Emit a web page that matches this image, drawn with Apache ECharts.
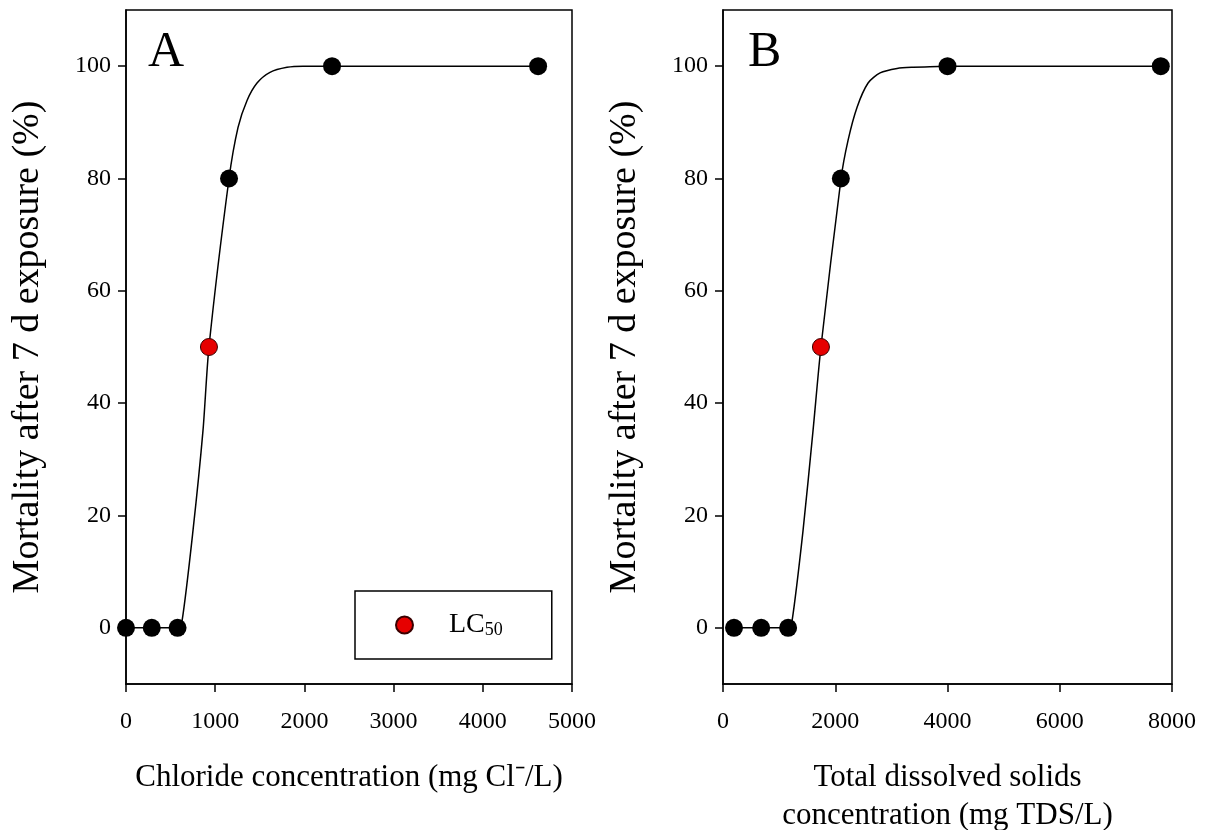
<!DOCTYPE html>
<html>
<head>
<meta charset="utf-8">
<script src="https://cdn.jsdelivr.net/npm/echarts@6/dist/echarts.min.js"></script>
<style>
html,body{margin:0;padding:0;background:#fff;}
#chart{width:1206px;height:830px;}
</style>
</head>
<body>
<div id="chart"></div>
<script>
// ---- data ----
const xTicksA = [0, 1000, 2000, 3000, 4000, 5000];
const xTicksB = [0, 2000, 4000, 6000, 8000];
const yTicks = [0, 20, 40, 60, 80, 100];

// Panel A: chloride
const chlorideObs = [0, 289, 578, 1155, 2310, 4620];
const mortalityObsA = [0, 0, 0, 80, 100, 100];
const lc50A = [930, 50];
const fitXA = [0, 289, 578, 628, 751, 863, 930, 1155, 1256, 1357, 1469, 1614, 1805, 1984, 2310, 4620];
const fitYA = [0, 0, 0, 1.2, 17.3, 35.1, 50, 80, 89.1, 93.9, 97.0, 98.9, 99.8, 100, 100, 100];

// Panel B: total dissolved solids
const tdsObs = [196, 680, 1160, 2100, 4000, 7800];
const mortalityObsB = [0, 0, 0, 80, 100, 100];
const lc50B = [1745, 50];
const fitXB = [196, 680, 1160, 1230, 1426, 1604, 1745, 2103, 2228, 2389, 2585, 2799, 3102, 3387, 4000, 7800];
const fitYB = [0, 0, 0, 1.2, 17.3, 35.1, 50, 80, 86.8, 92.7, 97.0, 98.8, 99.6, 99.8, 100, 100];

const xNameA = 'Chloride concentration (mg Cl\u207B/L)';
const xNameB = 'Total dissolved solids\nconcentration (mg TDS/L)';
const yName = 'Mortality after 7 d exposure (%)';

// ---- build ----
const FONT = '"Liberation Serif", "Times New Roman", serif';
const zip = (a, b) => a.map((v, i) => [v, b[i]]);
const plain = v => String(v);

function xAxis(idx, ticks, name) {
  return {
    type: 'value', gridIndex: idx, min: ticks[0], max: ticks[ticks.length - 1],
    interval: ticks[1] - ticks[0],
    name: name, nameLocation: 'middle', nameGap: 75,
    nameTextStyle: { fontFamily: FONT, fontSize: 31, color: '#000', lineHeight: 38 },
    axisLine: { show: true, onZero: false, lineStyle: { color: '#000', width: 1.5 } },
    axisTick: { show: true, length: 8, lineStyle: { color: '#000', width: 1.5 } },
    axisLabel: { fontFamily: FONT, fontSize: 24, color: '#000', margin: 26, formatter: plain, hideOverlap: false },
    splitLine: { show: false }
  };
}
function yAxis(idx) {
  return {
    type: 'value', gridIndex: idx, min: -10, max: 110,
    name: yName, nameLocation: 'middle', nameGap: 79,
    nameTextStyle: { fontFamily: FONT, fontSize: 38, color: '#000' },
    axisLine: { show: true, onZero: false, lineStyle: { color: '#000', width: 1.5 } },
    axisTick: { show: true, length: 8, customValues: yTicks, lineStyle: { color: '#000', width: 1.5 } },
    axisLabel: { fontFamily: FONT, fontSize: 24, color: '#000', margin: 15, customValues: yTicks, formatter: plain },
    splitLine: { show: false }
  };
}
function fitSeries(idx, xs, ys) {
  return {
    type: 'line', xAxisIndex: idx, yAxisIndex: idx, data: zip(xs, ys),
    smooth: 0.25, showSymbol: false, symbol: 'none',
    lineStyle: { color: '#000', width: 1.5 }, z: 2, silent: true
  };
}
function obsSeries(idx, xs, ys) {
  return {
    type: 'scatter', xAxisIndex: idx, yAxisIndex: idx, data: zip(xs, ys),
    symbol: 'circle', symbolSize: 18, itemStyle: { color: '#000', opacity: 1 }, z: 3
  };
}
function lcSeries(idx, pt) {
  return {
    name: 'LC50', type: 'scatter', xAxisIndex: idx, yAxisIndex: idx, data: [pt],
    symbol: 'circle', symbolSize: 17,
    itemStyle: { color: '#e60000', borderColor: '#3a0000', borderWidth: 1, opacity: 1 }, z: 4
  };
}

const gridBase = { top: 10, height: 674, show: true, borderColor: '#000', borderWidth: 1.5,
  backgroundColor: 'transparent', containLabel: false, outerBoundsMode: 'none' };

const option = {
  backgroundColor: '#fff',
  animation: false,
  grid: [
    Object.assign({ left: 126, width: 446 }, gridBase),
    Object.assign({ left: 723, width: 449 }, gridBase)
  ],
  xAxis: [xAxis(0, xTicksA, xNameA), xAxis(1, xTicksB, xNameB)],
  yAxis: [yAxis(0), yAxis(1)],
  legend: {
    data: ['LC50'], left: 355, top: 591, orient: 'horizontal',
    padding: [20, 49, 20, 40], borderColor: '#000', borderWidth: 1.5, backgroundColor: '#fff',
    itemWidth: 17, itemHeight: 17, icon: 'circle',
    formatter: () => '{a|LC}{b|50}',
    textStyle: {
      fontFamily: FONT, color: '#000',
      rich: {
        a: { fontFamily: FONT, fontSize: 28, lineHeight: 28, color: '#000', padding: [0, 0, 0, 31] },
        b: { fontFamily: FONT, fontSize: 18, lineHeight: 20, color: '#000', verticalAlign: 'bottom' }
      }
    }
  },
  graphic: [
    { type: 'text', left: 148, top: 28, style: { text: 'A', font: '50px ' + FONT, fill: '#000' } },
    { type: 'text', left: 748, top: 28, style: { text: 'B', font: '50px ' + FONT, fill: '#000' } }
  ],
  series: [
    fitSeries(0, fitXA, fitYA), obsSeries(0, chlorideObs, mortalityObsA), lcSeries(0, lc50A),
    fitSeries(1, fitXB, fitYB), obsSeries(1, tdsObs, mortalityObsB), lcSeries(1, lc50B)
  ]
};

const chart = echarts.init(document.getElementById('chart'), null, { renderer: 'canvas' });
chart.setOption(option);
</script>
</body>
</html>
